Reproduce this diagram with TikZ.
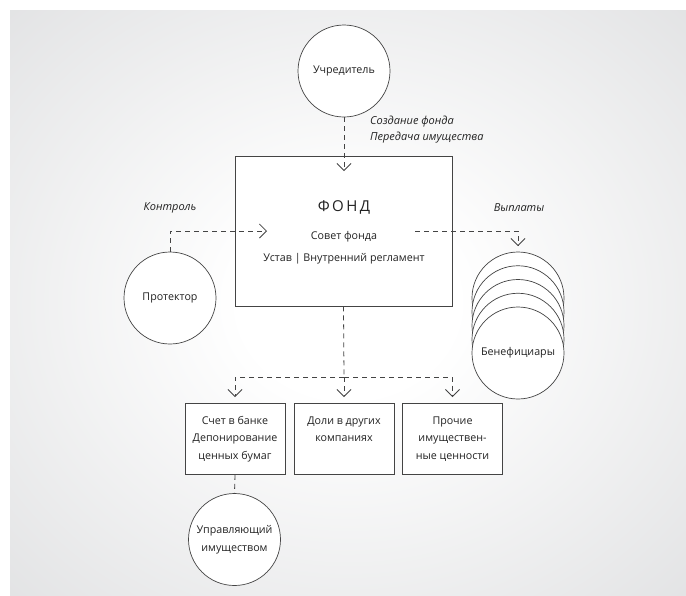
\documentclass[tikz,border=0pt]{standalone}
\usepackage{fontspec}
\setmainfont{Open Sans}
\usetikzlibrary{arrows.meta}
\definecolor{bggray}{HTML}{D4D5D7}
\definecolor{linegray}{HTML}{444444}
\definecolor{txtgray}{HTML}{222222}
\pgfdeclareradialshading{bgshade}{\pgfpoint{0bp}{0bp}}{color(0bp)=(white); color(8bp)=(white); color(50bp)=(bggray); color(70bp)=(bggray)}
\begin{document}
\begin{tikzpicture}[x=1pt,y=-1pt,
  every node/.style={text=txtgray, font=\fontsize{10.7}{17.5}\selectfont},
  circ/.style={circle, draw=linegray, line width=0.7pt, fill=white, minimum size=92pt, inner sep=0pt, align=center},
  bigbox/.style={rectangle, draw=linegray, line width=0.7pt, fill=white, minimum width=217pt, minimum height=150pt, inner sep=0pt},
  asset/.style={rectangle, draw=linegray, line width=0.7pt, fill=white, minimum width=100pt, minimum height=71pt, inner sep=0pt, align=center},
  lbl/.style={font=\fontsize{11}{16.3}\selectfont\itshape, text=txtgray, inner sep=0pt},
  conn/.style={draw=linegray, line width=0.8pt, dash pattern=on 5pt off 4pt},
  arr/.style={conn, -{Straight Barb[length=7pt,width=14pt,line width=0.8pt]}}
]
\useasboundingbox (0,0) rectangle (686,595);
\fill[white] (0,0) rectangle (686,595);
\path[shading=bgshade] (10,10) rectangle (686,595);

% nodes
\node[circ] (uch) at (344,71) {Учредитель};
\node[bigbox] (fond) at (343.5,231) {};
\node[font=\fontsize{15}{16}\selectfont, inner sep=0pt] (fondt) at (344,207) {Ф\,О\,Н\,Д};
\node[inner sep=0pt] (sovet) at (344,237) {Совет фонда};
\node[inner sep=0pt] (ustav) at (344,259) {Устав | Внутренний регламент};

\node[circ] (prot) at (170,298) {Протектор};

\node[circ] (ben1) at (518,298) {};
\node[circ] (ben2) at (518,311.75) {};
\node[circ] (ben3) at (518,325.5) {};
\node[circ] (ben4) at (518,339.25) {};
\node[circ] (ben5) at (518,353) {Бенефициары};

\node[asset] (a1) at (235,439) {Счет в банке\\Депонирование\\ценных бумаг};
\node[asset] (a2) at (344,439) {Доли в других\\компаниях\\\phantom{Д}};
\node[asset] (a3) at (452.5,439) {Прочие\\имуществен-\\ные ценности};

\node[circ] (upr) at (234.5,539.5) {Управляющий\\имуществом};

% labels
\node[lbl, anchor=west, align=left] (lsoz) at (370,129.5) {Создание фонда\\Передача имущества};
\node[lbl] (lkon) at (170,208) {Контроль};
\node[lbl] (lvyp) at (519,208) {Выплаты};

% connector coordinates
\coordinate (tuch) at (344,171);
\coordinate (tprot) at (267,231);
\coordinate (sben) at (415,231);
\coordinate (tben) at (518,246);
\coordinate (split) at (344,377);
\coordinate (ta1) at (235,397);
\coordinate (ta2) at (344,397);
\coordinate (ta3) at (452.5,397);

% connectors
\draw[arr] (uch.south) -- (tuch);
\draw[arr] (prot.north) |- (tprot);
\draw[arr] (sben) -| (tben);
\draw[conn] (fond.south) -- (split);
\draw[arr] (split) -| (ta1);
\draw[arr] (split) -- (ta2);
\draw[arr] (split) -| (ta3);
\draw[conn] (a1.south) -- (upr.north);
\end{tikzpicture}
\end{document}
